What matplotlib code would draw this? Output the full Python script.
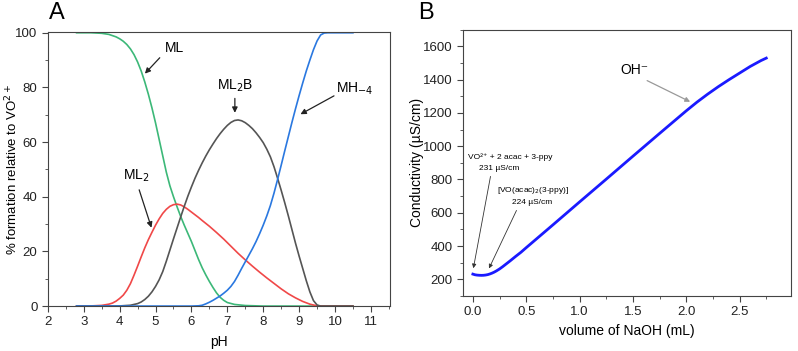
import numpy as np
import matplotlib
matplotlib.use("Agg")
import matplotlib.pyplot as plt
from matplotlib.ticker import MultipleLocator, FormatStrFormatter

plt.rcParams['font.family'] = ['Liberation Sans', 'DejaVu Sans']

# panel A: species distribution vs pH
ph_ml = [2.8, 3.2, 3.5, 3.7, 3.9, 4.0, 4.1, 4.2, 4.3, 4.4, 4.5, 4.6, 4.7, 4.8, 4.9, 5.0, 5.1, 5.2,
         5.3, 5.4, 5.5, 5.6, 5.7, 5.8, 5.9, 6.0, 6.1, 6.2, 6.3, 6.4, 6.5, 6.6, 6.7, 6.8, 6.9, 7.0,
         7.2, 7.5, 8.0, 10.5]
ml = [100, 100, 99.8, 99.4, 98.5, 97.8, 96.9, 95.7, 94.1, 92.0, 89.3, 86.0, 82.0, 77.5, 72.5, 67.0,
      61.0, 55.0, 49.0, 44.0, 40.0, 36.3, 32.8, 29.6, 26.6, 23.6, 20.3, 17.0, 14.0, 11.4, 9.0, 6.8,
      4.8, 3.2, 2.1, 1.3, 0.6, 0.2, 0, 0]

ph_ml2 = [2.8, 3.2, 3.5, 3.7, 3.8, 3.9, 4.0, 4.1, 4.2, 4.3, 4.4, 4.5, 4.6, 4.7, 4.8, 4.9, 5.0, 5.1,
          5.2, 5.3, 5.4, 5.5, 5.6, 5.7, 5.8, 5.9, 6.0, 6.1, 6.2, 6.3, 6.5, 6.7, 6.9, 7.1, 7.3, 7.5,
          7.7, 7.9, 8.1, 8.3, 8.5, 8.7, 8.9, 9.1, 9.3, 9.5, 9.7, 10.5]
ml2 = [0, 0.05, 0.25, 0.7, 1.1, 1.8, 2.8, 4.0, 5.8, 8.2, 11.3, 14.6, 18.0, 21.3, 24.3, 27.0, 29.6,
       31.9, 33.9, 35.4, 36.5, 37.1, 37.3, 37.0, 36.3, 35.4, 34.4, 33.4, 32.4, 31.3, 29.2, 26.9,
       24.5, 21.9, 19.3, 16.9, 14.6, 12.4, 10.3, 8.3, 6.3, 4.5, 3.0, 1.7, 0.7, 0.1, 0, 0]

ph_ml2b = [2.8, 4.0, 4.3, 4.5, 4.6, 4.7, 4.8, 4.9, 5.0, 5.1, 5.2, 5.3, 5.4, 5.5, 5.6, 5.7, 5.8, 5.9,
           6.0, 6.1, 6.2, 6.3, 6.4, 6.5, 6.6, 6.7, 6.8, 6.9, 7.0, 7.1, 7.2, 7.3, 7.4, 7.5, 7.6, 7.7,
           7.8, 7.9, 8.0, 8.1, 8.2, 8.3, 8.4, 8.5, 8.6, 8.7, 8.8, 8.9, 9.0, 9.1, 9.2, 9.3, 9.4, 9.5,
           9.6, 10.5]
ml2b = [0, 0.05, 0.3, 0.9, 1.5, 2.4, 3.6, 5.2, 7.2, 9.6, 12.6, 16.4, 20.5, 24.6, 28.6, 32.6, 36.5,
        40.2, 43.6, 46.8, 49.7, 52.4, 54.9, 57.2, 59.3, 61.3, 63.1, 64.7, 66.1, 67.2, 67.9, 68.1,
        67.8, 67.1, 66.1, 64.9, 63.4, 61.7, 59.8, 57.4, 54.6, 51.0, 46.8, 42.4, 37.8, 33.0, 28.0,
        23.0, 18.3, 13.8, 9.3, 5.2, 2.0, 0.4, 0, 0]

ph_mh4 = [2.8, 6.0, 6.2, 6.3, 6.4, 6.5, 6.6, 6.7, 6.8, 6.9, 7.0, 7.1, 7.2, 7.3, 7.4, 7.5, 7.6, 7.7,
          7.8, 7.9, 8.0, 8.1, 8.2, 8.3, 8.4, 8.5, 8.6, 8.7, 8.8, 8.9, 9.0, 9.1, 9.2, 9.3, 9.4, 9.5,
          9.6, 9.7, 9.8, 10.5]
mh4 = [0, 0, 0.1, 0.3, 0.8, 1.4, 2.1, 2.9, 3.7, 4.7, 5.8, 7.2, 9.0, 11.3, 13.8, 16.2, 18.6, 21.0,
       23.6, 26.5, 29.6, 33.0, 36.8, 41.3, 46.3, 51.5, 56.8, 62.0, 67.2, 72.2, 77.0, 81.6, 86.0,
       90.0, 93.8, 97.0, 99.2, 99.9, 100, 100]

# panel B: conductometric titration
vol = [0.0, 0.02, 0.04, 0.06, 0.08, 0.10, 0.12, 0.14, 0.16, 0.18, 0.20, 0.22, 0.25, 0.28, 0.31,
       0.35, 0.40, 0.45, 0.50, 0.75, 1.0, 1.25, 1.5, 1.75, 2.0, 2.1, 2.2, 2.3, 2.4, 2.5, 2.6,
       2.7, 2.75]
cond = [231, 227, 225, 224, 223.5, 224, 225.5, 228, 232, 237, 243, 250, 262, 276, 291,
        311, 337, 362, 390, 527, 665, 802, 940, 1077, 1213, 1265, 1313, 1358, 1400, 1440, 1480,
        1515, 1530]

fig = plt.figure(figsize=(7.98, 3.51), dpi=100)
axA = fig.add_axes([0.060, 0.128, 0.4286, 0.781])
axB = fig.add_axes([0.580, 0.157, 0.411, 0.758])

spine_col = '#444444'
for ax in (axA, axB):
    for s in ax.spines.values():
        s.set_color(spine_col)
        s.set_linewidth(0.8)
    ax.tick_params(which='both', direction='out', labelsize=9.5, color=spine_col,
                   labelcolor='#222222')
    ax.tick_params(which='major', length=4)
    ax.tick_params(which='minor', length=2.2)

# ---- A ----
axA.plot(ph_ml, ml, color='#3cb878', lw=1.2)
axA.plot(ph_ml2, ml2, color='#f04848', lw=1.2)
axA.plot(ph_ml2b, ml2b, color='#555555', lw=1.2)
axA.plot(ph_mh4, mh4, color='#2a78e0', lw=1.2)
axA.set_xlim(2, 11.53)
axA.set_ylim(0, 100.3)
axA.xaxis.set_major_locator(MultipleLocator(1))
axA.xaxis.set_minor_locator(MultipleLocator(0.5))
axA.yaxis.set_major_locator(MultipleLocator(20))
axA.yaxis.set_minor_locator(MultipleLocator(10))
axA.set_xlabel('pH', fontsize=10)
axA.set_ylabel('% formation relative to VO$^{2+}$', fontsize=9.5)
axA.xaxis.set_label_coords(0.5, -0.105)
axA.yaxis.set_label_coords(-0.08, 0.5)

arr = dict(arrowstyle='-|>', color='#222222', lw=0.9, mutation_scale=8)
axA.annotate('', xy=(4.65, 84.3), xytext=(5.17, 91.6), arrowprops=arr)
axA.text(5.54, 94.6, 'ML', fontsize=10, ha='center', va='center')
axA.annotate('', xy=(7.21, 69.7), xytext=(7.21, 77), arrowprops=arr)
axA.text(7.21, 80.5, 'ML$_2$B', fontsize=10, ha='center', va='center')
axA.annotate('', xy=(8.97, 69.7), xytext=(10.04, 77.4), arrowprops=arr)
axA.text(10.55, 79.6, 'MH$_{-4}$', fontsize=10, ha='center', va='center')
axA.annotate('', xy=(4.91, 27.7), xytext=(4.52, 43.5), arrowprops=arr)
axA.text(4.47, 47.5, 'ML$_2$', fontsize=10, ha='center', va='center')
fig.text(0.071, 0.963, 'A', fontsize=17, ha='center', va='center')

# ---- B ----
axB.plot(vol, cond, color='#1a1aff', lw=2)
axB.set_xlim(-0.094, 2.98)
axB.set_ylim(100, 1700)
axB.xaxis.set_major_locator(MultipleLocator(0.5))
axB.xaxis.set_minor_locator(MultipleLocator(0.25))
axB.yaxis.set_major_locator(MultipleLocator(200))
axB.yaxis.set_minor_locator(MultipleLocator(100))
axB.xaxis.set_major_formatter(FormatStrFormatter('%.1f'))
axB.set_xlabel('volume of NaOH (mL)', fontsize=10)
axB.set_ylabel('Conductivity (µS/cm)', fontsize=10)
axB.xaxis.set_label_coords(0.5, -0.105)
axB.yaxis.set_label_coords(-0.118, 0.5)

axB.text(1.515, 1456, 'OH⁻', fontsize=10, ha='center', va='center')
axB.annotate('', xy=(2.06, 1260), xytext=(1.61, 1402),
             arrowprops=dict(arrowstyle='-|>', color='#999999', lw=0.9, mutation_scale=7))
axB.text(0.35, 937, 'VO²⁺ + 2 acac + 3-ppy', fontsize=6, ha='center', va='center')
axB.text(0.25, 868, '231 µS/cm', fontsize=6, ha='center', va='center')
axB.annotate('', xy=(0.0, 250), xytext=(0.17, 835),
             arrowprops=dict(arrowstyle='-|>', color='#333333', lw=0.6, mutation_scale=6))
axB.text(0.56, 734, '[VO(acac)$_2$(3-ppy)]', fontsize=6, ha='center', va='center')
axB.text(0.56, 659, '224 µS/cm', fontsize=6, ha='center', va='center')
axB.annotate('', xy=(0.14, 250), xytext=(0.42, 629),
             arrowprops=dict(arrowstyle='-|>', color='#333333', lw=0.6, mutation_scale=6))
fig.text(0.534, 0.963, 'B', fontsize=17, ha='center', va='center')

fig.savefig('out.png', dpi=100)
